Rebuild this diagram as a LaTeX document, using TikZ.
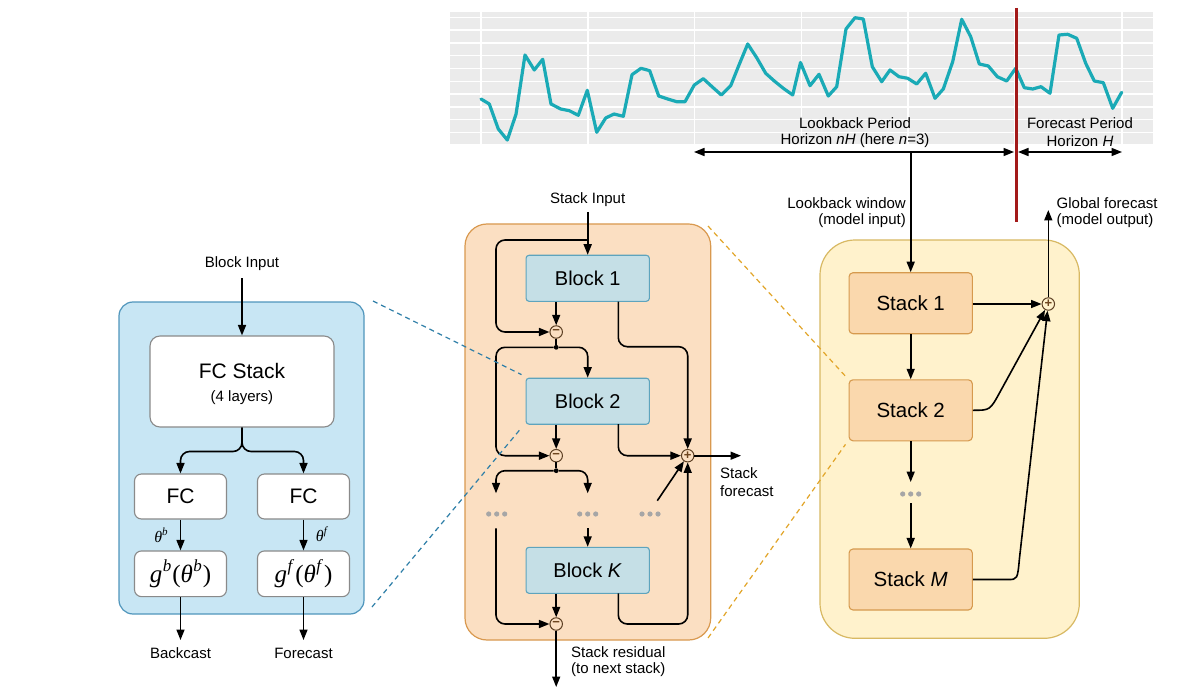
\documentclass[tikz,border=0pt]{standalone}
\usepackage{fontspec}
\setmainfont{Liberation Sans}
\newfontfamily\tms{Liberation Serif}
\usetikzlibrary{arrows.meta,calc}
\definecolor{leftfill}{HTML}{C8E6F4}
\definecolor{leftdraw}{HTML}{5096BC}
\definecolor{midfill}{HTML}{FBDFC2}
\definecolor{middraw}{HTML}{D9994F}
\definecolor{blkfill}{HTML}{C5DFE6}
\definecolor{blkdraw}{HTML}{5EA4BD}
\definecolor{rightfill}{HTML}{FFF2CC}
\definecolor{rightdraw}{HTML}{D8B963}
\definecolor{stkfill}{HTML}{FAD8AD}
\definecolor{stkdraw}{HTML}{D69A4E}
\definecolor{fcdraw}{HTML}{8A8A8A}
\definecolor{chartbg}{HTML}{EBEBEB}
\definecolor{series}{HTML}{1AAAB6}
\definecolor{redline}{HTML}{A31A1A}
\definecolor{dotgray}{HTML}{A6A6A6}
\definecolor{bluedash}{HTML}{2F7FA8}
\definecolor{orangedash}{HTML}{E2A529}
\definecolor{opdraw}{HTML}{5B3E22}
\definecolor{opsign}{HTML}{6E4620}
\newcommand{\gfun}[1]{{\tms\fontsize{25}{28}\selectfont\textit{g}\kern0.5pt\raisebox{0.42em}{\fontsize{17}{17}\selectfont\textit{#1}}\kern1pt(\textit{θ}\kern0.5pt\raisebox{0.42em}{\fontsize{17}{17}\selectfont\textit{#1}}\kern1pt)}}
\newcommand{\thlab}[1]{{\tms\fontsize{16}{18}\selectfont\textit{θ}\raisebox{0.42em}{\fontsize{11}{11}\selectfont\textit{#1}}}}
\begin{document}
\begin{tikzpicture}[x=1pt,y=-1pt,
  lbl/.style={font=\fontsize{15}{18}\selectfont, inner sep=0pt},
  tip/.style={-{Triangle[length=10.5pt,width=8pt]}},
  conn/.style={line width=1.6pt, tip, rounded corners=9pt},
  plain/.style={line width=1.6pt, rounded corners=9pt},
  blockbox/.style={draw=blkdraw, fill=blkfill, line width=1.1pt, rounded corners=3pt, minimum width=123.3pt, minimum height=46pt, inner sep=0pt, font=\fontsize{20}{24}\selectfont},
  stackbox/.style={draw=stkdraw, fill=stkfill, line width=1.1pt, rounded corners=4pt, minimum width=123.3pt, minimum height=61pt, inner sep=0pt, font=\fontsize{20.5}{24}\selectfont},
  fcbox/.style={draw=fcdraw, fill=white, line width=1.1pt, rounded corners=7pt, minimum width=92pt, minimum height=45pt, inner sep=0pt, font=\fontsize{21}{24}\selectfont},
  opcirc/.style={circle, draw=opdraw, fill=midfill, line width=1pt, minimum size=12.5pt, inner sep=0pt, text=opsign, font=\fontsize{13}{13}\selectfont\bfseries},
  junct/.style={circle, fill=black, minimum size=4.8pt, inner sep=0pt},
  dotrow/.style={minimum width=26pt, minimum height=8pt, inner sep=0pt, path picture={\foreach \dx in {-8,0,8} \fill[dotgray] ([xshift=\dx pt]path picture bounding box.center) circle (2.6pt);}},
  dashb/.style={bluedash, line width=1.2pt, dash pattern=on 5pt off 4pt},
  dasho/.style={orangedash, line width=1.2pt, dash pattern=on 5pt off 4pt},
]
\useasboundingbox (0,0) rectangle (1189,695);
\fill[white] (0,0) rectangle (1189,695);

% ---------------- chart ----------------
\fill[chartbg] (450,11.7) rectangle (1153,144);
\foreach \k in {0,...,9} \draw[white, line width=1.3pt] (450,{17.3+12.8*\k}) -- (1153,{17.3+12.8*\k});
\foreach \vx in {481,588,694.5,801.3,908,1015,1122} \draw[white, line width=1.3pt] (\vx,11.7) -- (\vx,144);
\draw[series, line width=3.2pt, line join=round, line cap=round] plot coordinates {
(481,99) (489.3,104) (498.3,129) (507.3,140) (516,114.3) (525,55) (534.3,70) (542.7,59.3)
(551,104) (560.7,109) (569.3,110.7) (578.3,115.3) (587.3,90.3) (596.7,132.3) (605.7,118)
(614,114) (623.3,116.3) (632,74.7) (641,68.3) (649.7,70.7) (658.7,96) (667.7,99) (676.7,101.7)
(685,101.7) (694.3,85) (703.3,78.7) (712.7,87.3) (721.3,95) (730.7,85.7) (739,65) (747.7,44)
(756.7,57.7) (765.7,73.3) (774.3,81) (783.3,88.3) (792.7,95) (800.5,62.5) (810,85.7) (819,74.3)
(828.3,96) (836.7,86.7) (846,29) (855,17.7) (863.3,19) (872.3,66.7) (881.7,81.7) (890,70)
(899,76.7) (907.7,78.3) (916.7,84) (925.7,73.3) (935,98.3) (943.3,89) (952.7,61.7) (961.7,19.3)
(970.7,36.7) (979.3,64) (988.3,66) (997.3,76.7) (1006.7,81) (1015.7,68.3) (1024.3,87.7)
(1032.7,89) (1041,86.7) (1050,93.3) (1059,35) (1067.7,34.3) (1076.7,38.3) (1085.7,63.3)
(1094.3,81) (1103.3,82.7) (1112.7,108.3) (1121.7,92.3)};
\draw[redline, line width=3pt] (1016,8) -- (1016,222);

\coordinate (lbL) at (694,152);
\coordinate (lbR) at (1014,152);
\coordinate (fpL) at (1018,152);
\coordinate (fpR) at (1122,152);
\coordinate (lbT) at (910.7,152);
\draw[line width=1.6pt, {Triangle[length=10.5pt,width=8pt]}-{Triangle[length=10.5pt,width=8pt]}] (lbL) -- (lbR);
\draw[line width=1.6pt, {Triangle[length=10.5pt,width=8pt]}-{Triangle[length=10.5pt,width=8pt]}] (fpL) -- (fpR);
\node[lbl] (lbp1) at (855,123) {Lookback Period};
\node[lbl] (lbp2) at (855,141) {Horizon \textit{nH} (here \textit{n}=3)};
\node[lbl] (fpp1) at (1080,123) {Forecast Period};
\node[lbl] (fpp2) at (1080,141) {Horizon \textit{H}};

% ---------------- left block ----------------
\draw[fill=leftfill, draw=leftdraw, line width=1.2pt, rounded corners=14pt] (119,302) rectangle (364,614);
\node[fcbox, minimum width=184pt, minimum height=91pt, rounded corners=10pt] (fcs) at (242,381.5) {};
\node[font=\fontsize{21}{24}\selectfont, inner sep=0pt] (fcst) at (242,371) {FC Stack};
\node[lbl] (fcsl) at (242,398) {(4 layers)};
\node[fcbox] (fcl) at (180.5,496.5) {FC};
\node[fcbox] (fcr) at (303.5,496.5) {FC};
\node[fcbox, minimum height=45.7pt] (gl) at (180.5,573.8) {\gfun{b}};
\node[fcbox, minimum height=45.7pt] (gr) at (303.5,573.8) {\gfun{f}};
\node[lbl] (binp) at (242,264) {Block Input};
\coordinate (binpA) at (242,278);
\draw[conn] (binpA) -- (fcs.north);
\draw[conn] (fcs.south) -- (242,451.5) -- (180.5,451.5) -- (fcl.north);
\draw[conn] (fcs.south) -- (242,451.5) -- (303.5,451.5) -- (fcr.north);
\draw[conn] (fcl) -- (gl);
\draw[conn] (fcr) -- (gr);
\node[inner sep=0pt] (thb) at (161,535) {\thlab{b}};
\node[inner sep=0pt] (thf) at (322,534) {\thlab{f}};
\coordinate (bcA) at (180.5,640);
\coordinate (fcA) at (303.5,640);
\draw[conn] (gl) -- (bcA);
\draw[conn] (gr) -- (fcA);
\node[lbl] (bct) at (180.5,653) {Backcast};
\node[lbl] (fct) at (303.5,653) {Forecast};

% ---------------- middle stack ----------------
\draw[fill=midfill, draw=middraw, line width=1.2pt, rounded corners=22pt] (465,224) rectangle (710.7,640);
\node[blockbox] (b1) at (587.7,278.3) {Block 1};
\node[blockbox] (b2) at (587.7,401.2) {Block 2};
\node[blockbox] (bK) at (587.7,570.3) {Block \textit{K}};
\node[opcirc] (m1) at (556.2,332) {−};
\node[opcirc] (m2) at (556.2,455.7) {−};
\node[opcirc] (m3) at (556.2,624) {−};
\node[opcirc] (pl) at (687.7,455.7) {+};
\node[junct] (j1) at (556.2,347.3) {};
\node[junct] (j2) at (556.2,470.7) {};
\node[dotrow] (dA) at (496.7,514) {};
\node[dotrow] (dB) at (587.7,514) {};
\node[dotrow] (dC) at (650,514) {};
\node[lbl] (sinp) at (587.7,200) {Stack Input};
\coordinate (sinA) at (587.7,212);
\draw[conn] (sinA) -- (b1);
\draw[conn] (587.7,240) -- (496,240) -- (496,332) -- (m1);
\draw[conn] (b1.south -| m1) -- (m1);
\draw[conn] (618.3,301.7) -- (618.3,346.7) -- (687.7,346.7) -- (pl);
\draw[plain] (m1) -- (j1);
\draw[conn] (j1) -- (496,347.3) -- (496,455.7) -- (m2);
\draw[conn] (j1) -- (587.7,347.3) -- (b2.north);
\draw[conn] (b2.south -| m2) -- (m2);
\draw[conn] (618.3,424.1) -- (618.3,455.7) -- (pl);
\draw[plain] (m2) -- (j2);
\coordinate (dAtop) at (496,493.3);
\coordinate (dBtop) at (587.7,493.3);
\draw[conn] (j2) -- (496,470.7) -- (dAtop);
\draw[conn] (j2) -- (587.7,470.7) -- (dBtop);
\draw[conn] (496,528.3) -- (496,624) -- (m3);
\draw[conn] (587.7,528.3) -- (bK.north);
\draw[conn] (bK.south -| m3) -- (m3);
\draw[conn] (618.3,593.3) -- (618.3,624) -- (687.7,624) -- (pl);
\draw[conn] (657.3,500.7) -- (pl);
\coordinate (sfA) at (741,455.7);
\draw[conn] (pl) -- (sfA);
\node[lbl, anchor=west] (sf1) at (720,472.7) {Stack};
\node[lbl, anchor=west] (sf2) at (720,491.5) {forecast};
\coordinate (srA) at (556.2,687);
\draw[conn] (m3) -- (srA);
\node[lbl, anchor=west] (sr1) at (571,652) {Stack residual};
\node[lbl, anchor=west] (sr2) at (571,670) {(to next stack)};

% ---------------- right model ----------------
\draw[fill=rightfill, draw=rightdraw, line width=1.2pt, rounded corners=35pt] (820,240) rectangle (1079.3,638.3);
\node[stackbox] (s1) at (910.7,303.2) {Stack 1};
\node[stackbox] (s2) at (910.7,410.3) {Stack 2};
\node[stackbox] (sM) at (910.7,579.5) {Stack \textit{M}};
\node[opcirc, fill=rightfill] (gp) at (1048.3,304) {+};
\node[dotrow] (dS) at (910.7,494) {};
\draw[conn] (lbT) -- (s1.north);
\draw[conn] (s1) -- (s2);
\coordinate (dStop) at (910.7,482);
\coordinate (dSbot) at (910.7,503);
\draw[conn] (s2) -- (dStop);
\draw[conn] (dSbot) -- (sM.north);
\draw[conn] (s1.east |- gp) -- (gp);
\draw[line width=1.6pt, tip] (s2.east) .. controls (990,410.3) .. (1000,392) -- (gp);
\draw[line width=1.6pt, tip] (sM.east) -- (1008,579.5) .. controls (1017.5,579.5) .. (1019.5,558) -- (gp);
\coordinate (gfA) at (1048.3,210);
\draw[conn] (gp) -- (gfA);
\node[lbl, anchor=east] (lw1) at (906,203) {Lookback window};
\node[lbl, anchor=east] (lw2) at (906,221) {(model input)};
\node[lbl, anchor=west] (gf1) at (1056.5,203) {Global forecast};
\node[lbl, anchor=west] (gf2) at (1056.5,221) {(model output)};

% ---------------- dashed zoom lines ----------------
\coordinate (zb1) at (373,301);
\coordinate (zb2) at (372,607);
\draw[dashb] (zb1) -- ([shift={(-4,-3)}]b2.north west);
\draw[dashb] (zb2) -- ([shift={(-4,3)}]b2.south west);
\coordinate (zo1) at (708,226);
\coordinate (zo2) at (708,638);
\draw[dasho] (zo1) -- ([shift={(-3,-3)}]s2.north west);
\draw[dasho] (zo2) -- ([shift={(-3,3)}]s2.south west);
\end{tikzpicture}
\end{document}
